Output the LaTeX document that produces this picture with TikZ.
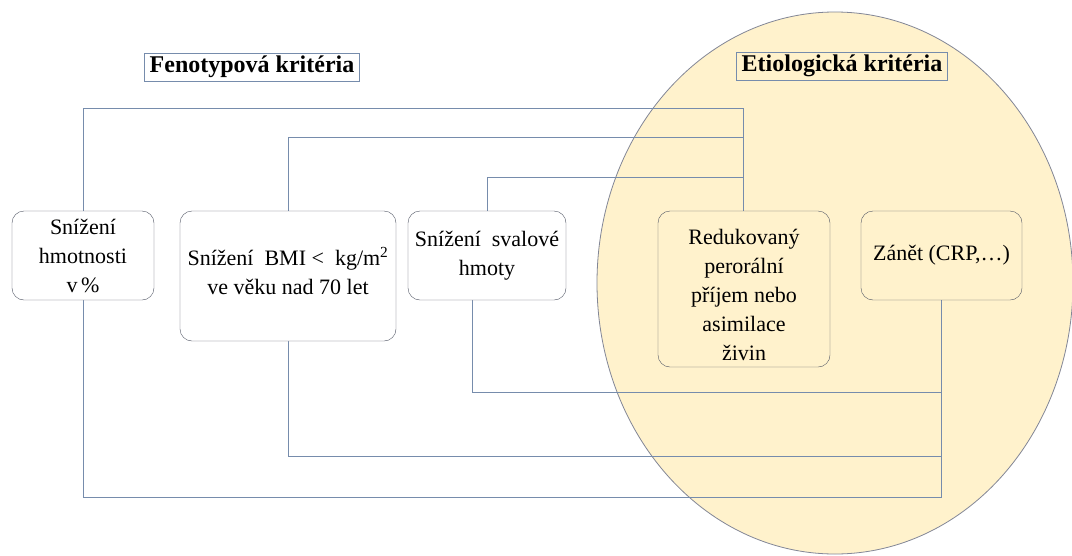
\documentclass[tikz,border=0pt]{standalone}
\usepackage{fontspec}
\setmainfont{Liberation Serif}
\usepackage{tikz}
\definecolor{linkblue}{RGB}{118,140,172}
\definecolor{boxgray}{RGB}{80,86,100}
\definecolor{etiofill}{RGB}{255,242,204}
\definecolor{etioline}{RGB}{130,134,150}
\tikzset{
  critbox/.style={draw=boxgray, rounded corners=12pt, align=center, inner sep=2pt,
                  font=\rmfamily\fontsize{22}{29}\selectfont},
  titlebox/.style={draw=linkblue, inner xsep=5pt, inner ysep=3pt,
                   font=\rmfamily\fontsize{24}{28}\selectfont\bfseries},
  link/.style={draw=linkblue, line width=0.9pt}
}
\begin{document}
\begin{tikzpicture}[x=1pt,y=-1pt]
\useasboundingbox (0,0) rectangle (1072,555);
\fill[white] (0,0) rectangle (1072,555);
\draw[etioline, fill=etiofill, line width=0.8pt] (835,283) ellipse [x radius=238, y radius=271];

\node[titlebox] (feno) at (252,67) {Fenotypová kritéria};
\node[titlebox] (etio) at (842,66) {Etiologická kritéria};

\coordinate (top1) at (743,108);
\coordinate (top2) at (743,137);
\coordinate (top3) at (743,177);
\coordinate (bot3) at (941,392);
\coordinate (bot2) at (941,456);
\coordinate (bot1) at (941,497);

\draw[link] (83,211) |- (top1) -- (743,211);
\draw[link] (288,211) |- (top2);
\draw[link] (487,211) |- (top3);
\draw[link] (472,300) |- (bot3);
\draw[link] (288,341) |- (bot2);
\draw[link] (83,300) |- (bot1) -- (941,300);

\node[critbox, fill=white, minimum width=142pt, minimum height=89pt] (hmot) at (83,255.5)
  {Snížení\\hmotnosti\\v\,\%};
\node[critbox, fill=white, minimum width=216pt, minimum height=130pt] (bmi) at (288,276)
  {Snížení\ \ BMI <\ \ kg/m\textsuperscript{2}\\ve věku nad 70 let\\[-19pt]};
\node[critbox, fill=white, minimum width=158pt, minimum height=89pt] (sval) at (487,255.5)
  {Snížení\ \ svalové\\hmoty};
\node[critbox, minimum width=172pt, minimum height=156pt] (prijem) at (744,289)
  {Redukovaný\\perorální\\příjem nebo\\asimilace\\živin\\[-41pt]};
\node[critbox, minimum width=161pt, minimum height=89pt] (zanet) at (941.5,255.5)
  {Zánět (CRP,\ldots)};
\end{tikzpicture}
\end{document}
